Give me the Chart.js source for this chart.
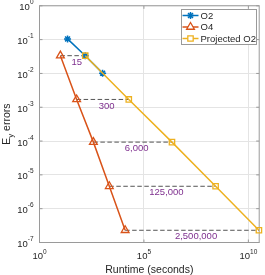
<!DOCTYPE html>
<html><head><meta charset="utf-8">
<script src="https://cdn.jsdelivr.net/npm/chart.js@4/dist/chart.umd.min.js"></script>
<style>html,body{margin:0;padding:0;background:#fff;}canvas{display:block;}</style>
</head><body>
<canvas id="c" width="265" height="275"></canvas>
<script>
// ---- data ----
const o2Runtime = [22, 155, 1050];
const o2Error = [0.105, 0.0335, 0.0102];
const o4Runtime = [10, 60, 380, 2200, 12600];
const o4Error = [0.0335, 0.0017, 9.3e-5, 4.6e-6, 2.3e-7];
const projRuntime = [155, 18800, 2.2e6, 2.7e8, 3.2e10];
const projError = [0.0335, 0.0017, 9.3e-5, 4.6e-6, 2.3e-7];
const speedupLabels = ['15', '300', '6,000', '125,000', '2,500,000'];
const seriesNames = ['O2', 'O4', 'Projected O2'];
const xTickExps = [0, 5, 10];
const yTickExps = [0, -1, -2, -3, -4, -5, -6, -7];
const xTitle = 'Runtime (seconds)';
const yTitleParts = ['E', 'y', ' errors'];

const BLUE = '#0072BD', ORANGE = '#D95319', YELLOW = '#EDB120', PURPLE = '#7E2F8E';
const TXT = '#262626', BOX = '#9a9a9a', GRID = '#e4e4e4';
const FF = '"Liberation Sans", Arial, Helvetica, sans-serif';

const pts = (xs, ys) => xs.map((x, i) => ({x: x, y: ys[i]}));

const datasets = [
  {label: seriesNames[0], data: pts(o2Runtime, o2Error), borderColor: BLUE, backgroundColor: BLUE,
   borderWidth: 1.5, pointStyle: 'star', pointRadius: 3.5, pointBorderWidth: 1.5, order: 3},
  {label: seriesNames[1], data: pts(o4Runtime, o4Error), borderColor: ORANGE, backgroundColor: 'rgba(0,0,0,0)',
   borderWidth: 1.5, pointStyle: 'triangle', pointRadius: 4.5, pointBorderWidth: 1.3, order: 2},
  {label: seriesNames[2], data: pts(projRuntime, projError), borderColor: YELLOW, backgroundColor: 'rgba(0,0,0,0)',
   borderWidth: 1.5, pointStyle: 'rect', pointRadius: 3.8, pointBorderWidth: 1.3, order: 1}
];
o4Runtime.forEach((r, i) => {
  datasets.push({label: '_dash' + i, data: [{x: r, y: o4Error[i]}, {x: projRuntime[i], y: projError[i]}],
    borderColor: '#555', borderWidth: 1, borderDash: [4.5, 2.5], pointRadius: 0, order: 10});
});
datasets.forEach(d => { d.clip = false; d.tension = 0; d.fill = false; });

function drawPow(ctx, exp, x, tickPos, mode) {
  const big = '9.5px ' + FF, small = '6.5px ' + FF;
  ctx.font = big; const w1 = ctx.measureText('10').width;
  ctx.font = small; const w2 = ctx.measureText(String(exp)).width;
  let start, b1, b2;
  if (mode === 'y') { start = x - w1 - w2; b1 = tickPos + 4.5; b2 = tickPos - 1.5; }
  else { start = x - (w1 + w2) / 2; b1 = 258.5; b2 = 253.5; }
  ctx.fillStyle = TXT; ctx.textAlign = 'left'; ctx.textBaseline = 'alphabetic';
  ctx.font = big; ctx.fillText('10', start, b1);
  ctx.font = small; ctx.fillText(String(exp), start + w1, b2);
}

function marker(ctx, style, x, y, color) {
  ctx.save(); ctx.strokeStyle = color; ctx.lineWidth = 1.3; ctx.beginPath();
  if (style === 'star') {
    const r = 3.5, d = r * Math.SQRT1_2;
    ctx.moveTo(x - r, y); ctx.lineTo(x + r, y); ctx.moveTo(x, y - r); ctx.lineTo(x, y + r);
    ctx.moveTo(x - d, y - d); ctx.lineTo(x + d, y + d); ctx.moveTo(x - d, y + d); ctx.lineTo(x + d, y - d);
    ctx.lineWidth = 1.5; ctx.stroke();
  } else if (style === 'triangle') {
    const r = 4.5;
    ctx.moveTo(x, y - r); ctx.lineTo(x + r * 0.866, y + r / 2); ctx.lineTo(x - r * 0.866, y + r / 2); ctx.closePath();
    ctx.fillStyle = '#fff'; ctx.fill(); ctx.stroke();
  } else {
    const s = 3.8 * Math.SQRT1_2;
    ctx.rect(x - s, y - s, 2 * s, 2 * s); ctx.fillStyle = '#fff'; ctx.fill(); ctx.stroke();
  }
  ctx.restore();
}

const decor = {
  id: 'decor',
  beforeDatasetsDraw(chart) {
    const {ctx, chartArea: a, scales: {x, y}} = chart;
    ctx.save();
    ctx.strokeStyle = BOX; ctx.lineWidth = 1;
    ctx.strokeRect(a.left, a.top, a.right - a.left, a.bottom - a.top);
    ctx.beginPath();
    xTickExps.forEach(e => { const px = x.getPixelForValue(Math.pow(10, e));
      ctx.moveTo(px, a.bottom); ctx.lineTo(px, a.bottom - 3); ctx.moveTo(px, a.top); ctx.lineTo(px, a.top + 3); });
    yTickExps.forEach(e => { const py = y.getPixelForValue(Math.pow(10, e));
      ctx.moveTo(a.left, py); ctx.lineTo(a.left + 3, py); ctx.moveTo(a.right, py); ctx.lineTo(a.right - 3, py); });
    ctx.stroke();
    ctx.restore();
  },
  afterDatasetsDraw(chart) {
    const {ctx, scales: {x, y}} = chart;
    ctx.save();
    ctx.fillStyle = PURPLE; ctx.font = '9.5px ' + FF; ctx.textAlign = 'center'; ctx.textBaseline = 'middle';
    speedupLabels.forEach((t, i) => {
      const gx = Math.sqrt(o4Runtime[i] * projRuntime[i]);
      ctx.fillText(t, x.getPixelForValue(gx) + 4, y.getPixelForValue(o4Error[i]) + 6.5);
    });
    ctx.restore();
  },
  afterDraw(chart) {
    const {ctx, chartArea: a, scales: {x, y}} = chart;
    ctx.save();
    yTickExps.forEach(e => drawPow(ctx, e, 33.5, y.getPixelForValue(Math.pow(10, e)), 'y'));
    xTickExps.forEach(e => drawPow(ctx, e, x.getPixelForValue(Math.pow(10, e)), 0, 'x'));
    // x title
    ctx.fillStyle = TXT; ctx.font = '10.5px ' + FF; ctx.textAlign = 'center'; ctx.textBaseline = 'alphabetic';
    ctx.fillText(xTitle, (a.left + a.right) / 2, 272.5);
    // y title
    ctx.translate(9.5, (a.top + a.bottom) / 2); ctx.rotate(-Math.PI / 2);
    const f1 = '10.5px ' + FF, f2 = '8px ' + FF;
    ctx.font = f1; const wE = ctx.measureText(yTitleParts[0]).width; const wR = ctx.measureText(yTitleParts[2]).width;
    ctx.font = f2; const wy = ctx.measureText(yTitleParts[1]).width;
    let sx = -(wE + wy + wR) / 2;
    ctx.textAlign = 'left';
    ctx.font = f1; ctx.fillText(yTitleParts[0], sx, 0); sx += wE;
    ctx.font = f2; ctx.fillText(yTitleParts[1], sx, 3); sx += wy;
    ctx.font = f1; ctx.fillText(yTitleParts[2], sx, 0);
    ctx.restore();
    // legend
    ctx.save();
    ctx.fillStyle = '#fff'; ctx.fillRect(181.5, 9.5, 75, 35);
    ctx.strokeStyle = BOX; ctx.lineWidth = 1; ctx.strokeRect(181.5, 9.5, 75, 35);
    const rows = [15.5, 27, 38.5], cols = [BLUE, ORANGE, YELLOW], styles = ['star', 'triangle', 'rect'];
    rows.forEach((ry, i) => {
      ctx.strokeStyle = cols[i]; ctx.lineWidth = 1.5; ctx.beginPath();
      ctx.moveTo(182.5, ry); ctx.lineTo(198.5, ry); ctx.stroke();
      marker(ctx, styles[i], 190.5, ry, cols[i]);
      ctx.fillStyle = TXT; ctx.font = '9.5px ' + FF; ctx.textAlign = 'left'; ctx.textBaseline = 'middle';
      ctx.fillText(seriesNames[i], 200.5, ry + 0.5);
    });
    ctx.restore();
  }
};

new Chart(document.getElementById('c'), {
  type: 'line',
  data: {datasets: datasets},
  options: {
    responsive: false, devicePixelRatio: 1, animation: false,
    layout: {padding: {left: 39.5, right: 3.5, top: 5.5, bottom: 32.5}},
    plugins: {legend: {display: false}, tooltip: {enabled: false}},
    scales: {
      x: {type: 'logarithmic', min: 1, max: 3.3e10,
          ticks: {display: false}, border: {display: false}, grid: {color: GRID, drawTicks: false, lineWidth: 1},
          afterBuildTicks: s => { s.ticks = xTickExps.map(e => ({value: Math.pow(10, e)})); },
          afterFit: s => { s.height = 0; }},
      y: {type: 'logarithmic', min: 1e-7, max: 1,
          ticks: {display: false}, border: {display: false}, grid: {color: GRID, drawTicks: false, lineWidth: 1},
          afterBuildTicks: s => { s.ticks = yTickExps.map(e => ({value: Math.pow(10, e)})); },
          afterFit: s => { s.width = 0; }}
    }
  },
  plugins: [decor]
});
</script>
</body></html>
